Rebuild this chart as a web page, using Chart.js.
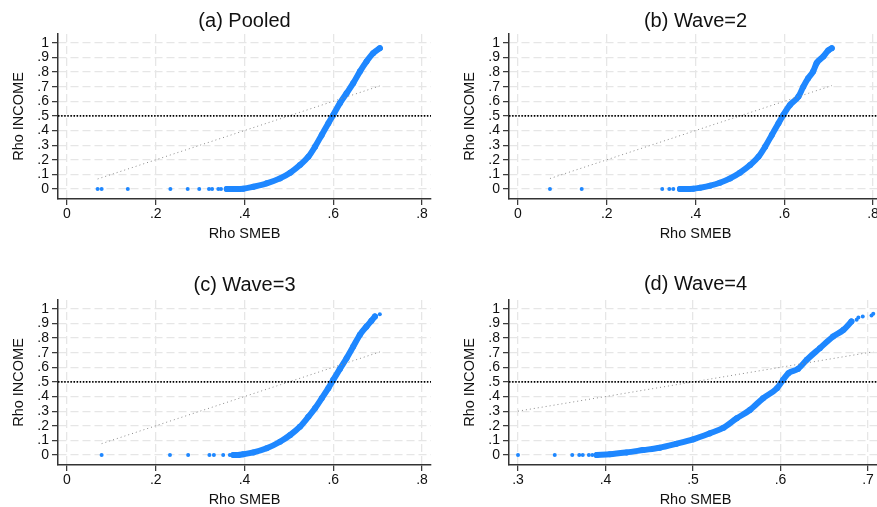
<!DOCTYPE html>
<html lang="en">
<head>
<meta charset="UTF-8">
<title>Rho INCOME vs Rho SMEB</title>
<style>
  body { margin: 0; width: 877px; height: 507px; overflow: hidden; position: relative; background: #fff; }
  canvas { position: absolute; }
</style>
</head>
<body>
<canvas id="pA" width="440" height="255" style="left:0;top:0"></canvas>
<canvas id="pB" width="440" height="255" style="left:451px;top:0"></canvas>
<canvas id="pC" width="440" height="255" style="left:0;top:266px"></canvas>
<canvas id="pD" width="440" height="255" style="left:451px;top:266px"></canvas>
<script src="https://cdn.jsdelivr.net/npm/chart.js"></script>
<script>
// panel titles
const titles = ['(a) Pooled', '(b) Wave=2', '(c) Wave=3', '(d) Wave=4'];

// axis ranges and ticks
const yRange = [-0.068, 1.06];
const yTicks = [0, 0.1, 0.2, 0.3, 0.4, 0.5, 0.6, 0.7, 0.8, 0.9, 1];
const yTickLabels = ['0', '.1', '.2', '.3', '.4', '.5', '.6', '.7', '.8', '.9', '1'];
const xRangeWide = [-0.0203, 0.8203];
const xTicksWide = [0, 0.2, 0.4, 0.6, 0.8];
const xTickLabelsWide = ['0', '.2', '.4', '.6', '.8'];
const xRangeD = [0.2897, 0.716];
const xTicksD = [0.3, 0.4, 0.5, 0.6, 0.7];
const xTickLabelsD = ['.3', '.4', '.5', '.6', '.7'];

// (a) pooled
const aSparseX = [0.069, 0.078, 0.137, 0.233, 0.272, 0.298, 0.320, 0.327, 0.341, 0.347];
const aSparseY = [0, 0, 0, 0, 0, 0, 0, 0, 0, 0];
const aCurveX = [0.36, 0.38, 0.397, 0.42, 0.45, 0.48, 0.503, 0.525, 0.544, 0.559, 0.574, 0.589, 0.600, 0.615, 0.630, 0.645, 0.660, 0.675, 0.690, 0.705];
const aCurveY = [0, 0, 0.002, 0.016, 0.039, 0.073, 0.112, 0.164, 0.221, 0.29, 0.37, 0.45, 0.507, 0.587, 0.655, 0.724, 0.803, 0.872, 0.929, 0.963];

// (b) wave 2
const bSparseX = [0.072, 0.1435, 0.325, 0.341, 0.350];
const bSparseY = [0, 0, 0, 0, 0];
const bCurveX = [0.365, 0.38, 0.395, 0.410, 0.433, 0.455, 0.478, 0.500, 0.523, 0.542, 0.557, 0.572, 0.587, 0.598, 0.613, 0.632, 0.643, 0.654, 0.665, 0.673, 0.688, 0.699, 0.707];
const bCurveY = [0, 0, 0.002, 0.009, 0.023, 0.043, 0.073, 0.112, 0.164, 0.221, 0.29, 0.37, 0.45, 0.507, 0.575, 0.632, 0.70, 0.758, 0.803, 0.861, 0.906, 0.947, 0.963];

// (c) wave 3
const cSparseX = [0.078, 0.232, 0.273, 0.321, 0.331, 0.352, 0.367, 0.705];
const cSparseY = [0, 0, 0, 0, 0, 0, 0, 0.963];
const cCurveX = [0.375, 0.385, 0.397, 0.42, 0.45, 0.48, 0.503, 0.525, 0.544, 0.559, 0.574, 0.589, 0.600, 0.615, 0.630, 0.645, 0.660, 0.675, 0.686, 0.694];
const cCurveY = [0, 0, 0.005, 0.018, 0.046, 0.091, 0.137, 0.194, 0.262, 0.32, 0.388, 0.457, 0.514, 0.589, 0.662, 0.742, 0.822, 0.879, 0.918, 0.947];

// (d) wave 4
const dSparseX = [0.300, 0.342, 0.362, 0.370, 0.374, 0.381, 0.385, 0.687, 0.689, 0.694, 0.704, 0.706];
const dSparseY = [0, 0, 0, 0, 0, 0, 0, 0.925, 0.941, 0.947, 0.954, 0.966];
const dCurveX = [0.39, 0.405, 0.424, 0.443, 0.462, 0.481, 0.500, 0.519, 0.535, 0.550, 0.565, 0.580, 0.596, 0.603, 0.609, 0.620, 0.630, 0.645, 0.660, 0.672, 0.681];
const dCurveY = [0, 0.005, 0.018, 0.034, 0.050, 0.077, 0.107, 0.148, 0.187, 0.251, 0.308, 0.388, 0.457, 0.514, 0.559, 0.589, 0.651, 0.731, 0.810, 0.856, 0.913];

// 45-degree line spans the observed Rho SMEB range
const diagA = [0.069, 0.705];
const diagB = [0.072, 0.707];
const diagC = [0.078, 0.705];
const diagD = [0.300, 0.706];

const cutoff = 0.5;

const FONT = "'Liberation Sans', Arial, Helvetica, sans-serif";
const BLUE = '#1e87ff';
const AXIS = '#333';

function pts(xs, ys) { return xs.map((x, i) => ({ x: x, y: ys[i] })); }

// put the panel title over the plot region rather than the whole canvas
const centreTitle = {
  id: 'centreTitle',
  afterLayout(chart) {
    const t = chart.titleBlock;
    if (!t) return;
    t.left = chart.chartArea.left;
    t.right = chart.chartArea.right;
    t.width = t.right - t.left;
  }
};

function panel(id, title, titlePad, xRange, xTicks, xLabels, sparseX, sparseY, curveX, curveY, diag) {
  new Chart(document.getElementById(id), {
    type: 'scatter',
    data: {
      datasets: [
        { data: [{ x: xRange[0], y: cutoff }, { x: xRange[1], y: cutoff }], showLine: true,
          borderColor: '#000', borderWidth: 1.6, borderDash: [1.5, 1.6], pointRadius: 0 },
        { data: [{ x: diag[0], y: diag[0] }, { x: diag[1], y: diag[1] }], showLine: true,
          borderColor: '#8a8a8a', borderWidth: 1, borderDash: [1, 3], pointRadius: 0 },
        { data: pts(curveX, curveY), showLine: true, borderColor: BLUE, borderWidth: 6,
          borderCapStyle: 'round', borderJoinStyle: 'round', cubicInterpolationMode: 'monotone',
          pointRadius: 3, pointBackgroundColor: BLUE, pointBorderWidth: 0 },
        { data: pts(sparseX, sparseY), pointRadius: 2, pointBackgroundColor: BLUE, pointBorderWidth: 0 }
      ]
    },
    options: {
      responsive: false,
      animation: false,
      devicePixelRatio: 1,
      layout: { padding: { left: 0, right: 9, top: 0, bottom: 0 } },
      plugins: {
        legend: { display: false },
        tooltip: { enabled: false },
        title: { display: true, text: title, color: '#111',
          font: { family: FONT, size: 20, weight: 'normal', lineHeight: 1.2 },
          padding: { top: titlePad[0], bottom: titlePad[1] } }
      },
      scales: {
        x: {
          type: 'linear', min: xRange[0], max: xRange[1],
          afterBuildTicks: s => { s.ticks = xTicks.map(v => ({ value: v })); },
          afterFit: s => { s.height = 56; s.paddingLeft = 0; s.paddingRight = 0; },
          ticks: { callback: (v, i) => xLabels[i], color: '#111', padding: 1, autoSkip: false,
            font: { family: FONT, size: 14 }, maxRotation: 0 },
          grid: { color: '#e6e6e6', lineWidth: 1.3, tickColor: AXIS, tickWidth: 1.2, tickLength: 6 },
          border: { color: AXIS, width: 1.5, dash: [8, 4] },
          title: { display: true, text: 'Rho SMEB', color: '#111',
            font: { family: FONT, size: 14.5 }, padding: { top: 0, bottom: 12.6 } }
        },
        y: {
          type: 'linear', min: yRange[0], max: yRange[1],
          afterBuildTicks: s => { s.ticks = yTicks.map(v => ({ value: v })); },
          afterFit: s => { s.width = 58; },
          ticks: { callback: (v, i) => yTickLabels[i], color: '#111', padding: 3, autoSkip: false,
            font: { family: FONT, size: 14 } },
          grid: { color: '#e6e6e6', lineWidth: 1.3, tickColor: AXIS, tickWidth: 1.2, tickLength: 6 },
          border: { color: AXIS, width: 1.5, dash: [8, 4] },
          title: { display: true, text: 'Rho INCOME', color: '#111',
            font: { family: FONT, size: 14.5 }, padding: { top: 10.6, bottom: 0 } }
        }
      }
    },
    plugins: [centreTitle]
  });
}

panel('pA', titles[0], [9.7, 0.3], xRangeWide, xTicksWide, xTickLabelsWide, aSparseX, aSparseY, aCurveX, aCurveY, diagA);
panel('pB', titles[1], [9.7, 0.3], xRangeWide, xTicksWide, xTickLabelsWide, bSparseX, bSparseY, bCurveX, bCurveY, diagB);
panel('pC', titles[2], [7, 3], xRangeWide, xTicksWide, xTickLabelsWide, cSparseX, cSparseY, cCurveX, cCurveY, diagC);
panel('pD', titles[3], [6, 4], xRangeD, xTicksD, xTickLabelsD, dSparseX, dSparseY, dCurveX, dCurveY, diagD);
</script>
</body>
</html>
